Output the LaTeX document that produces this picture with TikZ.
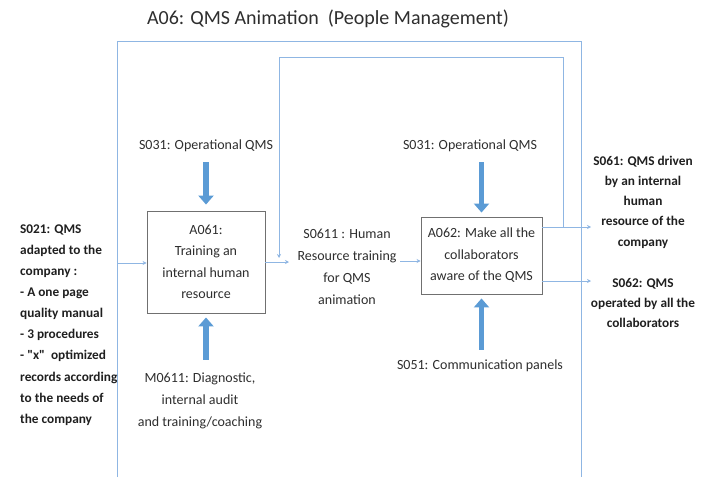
\documentclass[tikz,border=0pt]{standalone}
\usepackage{fontspec}
\setmainfont{Carlito}
\usetikzlibrary{arrows.meta}
\definecolor{thinblue}{HTML}{8FB6E3}
\definecolor{thickblue}{HTML}{5B9BD5}
\definecolor{txt}{HTML}{2E2E2E}
\definecolor{boxline}{HTML}{707070}
\begin{document}
\begin{tikzpicture}[x=1pt,y=-1pt,
  flow/.style={draw=thinblue, line width=0.9pt, -{Stealth[length=4pt,width=4pt]}},
  frameline/.style={draw=thinblue, line width=1pt},
  heavy/.style={draw=thickblue, line width=5.5pt, -{Triangle[length=9pt,width=15pt]}},
  act/.style={draw=boxline, line width=0.9pt, fill=white, align=center, text=txt,
    font=\fontsize{14}{21.5}\selectfont, inner sep=0pt},
  lbl/.style={align=center, text=txt, font=\fontsize{14}{22}\selectfont, inner sep=0pt},
  blbl/.style={align=center, text=black!88, font=\fontsize{13.3}{20.3}\selectfont\bfseries, inner sep=0pt},
  leftlbl/.style={align=left, text=black!88, font=\fontsize{13.3}{21.1}\selectfont\bfseries, inner sep=0pt}
]
\useasboundingbox (0,0) rectangle (708,479);

% title
\node[text=txt, font=\fontsize{20}{24}\selectfont, inner sep=0pt] (title) at (328,19)
  {A06: QMS Animation\ \ (People Management)};

% outer frame
\draw[frameline] (117,477) -- (117,41) -- (581,41) -- (581,477);

% activity boxes
\node[act, minimum width=118pt, minimum height=102pt] (A061) at (206,262)
  {A061:\\Training an\\internal human\\resource};
\node[act, minimum width=121pt, minimum height=77pt] (A062) at (481.5,255.5)
  {A062: Make all the\\collaborators\\aware of the QMS};

% labels
\node[lbl] (S031L) at (206,146) {S031: Operational QMS};
\node[lbl] (S031R) at (470,146) {S031: Operational QMS};
\node[lbl] (M0611) at (200,401) {M0611: Diagnostic,\\internal audit\\and training/coaching};
\node[lbl] (S051) at (480,366) {S051: Communication panels};
\node[lbl] (S0611) at (347,267) {S0611 : Human\\Resource training\\for QMS\\animation};
\node[leftlbl, anchor=west] (S021) at (20,325)
  {S021: QMS\\adapted to the\\company :\\- A one page\\quality manual\\- 3 procedures\\- \textquotedbl x\textquotedbl\ \ optimized\\records according\\to the needs of\\the company};
\node[blbl] (S061) at (643,202) {S061: QMS driven\\by an internal\\human\\resource of the\\company};
\node[blbl] (S062) at (643,303) {S062: QMS\\operated by all the\\collaborators};

% coordinates for free ends
\coordinate (inL) at (117,263);
\coordinate (out1) at (289,262);
\coordinate (in2) at (400,261);
\coordinate (fbTR) at (563,57);
\coordinate (fbTL) at (279,57);
\coordinate (fbEnd) at (279,258);
\coordinate (tipA) at (591,227);
\coordinate (tipB) at (591,281);

% thin flows
\draw[flow] (inL) -- (inL -| A061.west);
\draw[flow] (A061.east |- out1) -- (out1);
\draw[flow] (in2) -- (in2 -| A062.west);
\draw[flow] (A062.east |- tipA) -- (tipA);
\draw[flow] (A062.east |- tipB) -- (tipB);
\draw[flow] (A062.east |- tipA) -- (fbTR |- tipA) -- (fbTR) -- (fbTL) -- (fbEnd);

% thick control / mechanism arrows
\draw[heavy, shorten <=10pt, shorten >=6pt] (S031L.south) -- (A061.north);
\draw[heavy, shorten <=10pt, shorten >=4pt] (S031R.south -| A062.north) -- (A062.north);
\draw[heavy, shorten <=13pt, shorten >=4pt] (A061.south |- M0611.north) -- (A061.south);
\draw[heavy, shorten <=10pt, shorten >=4pt] (A062.south |- S051.north) -- (A062.south);
\end{tikzpicture}
\end{document}
